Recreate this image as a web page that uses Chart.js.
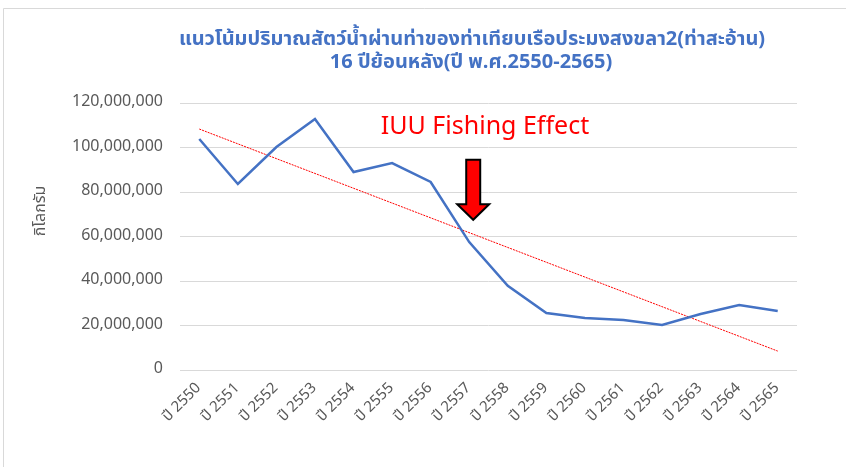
<!DOCTYPE html>
<html>
<head>
<meta charset="utf-8">
<script src="https://cdn.jsdelivr.net/npm/chart.js@4.4.1/dist/chart.umd.min.js"></script>
<style>
html,body{margin:0;padding:0;background:#fff;}
#wrap{width:846px;height:467px;position:relative;}
</style>
</head>
<body>
<div id="wrap"><canvas id="c" width="846" height="467"></canvas></div>
<script>
const categories = ['ปี 2550','ปี 2551','ปี 2552','ปี 2553','ปี 2554','ปี 2555','ปี 2556','ปี 2557','ปี 2558','ปี 2559','ปี 2560','ปี 2561','ปี 2562','ปี 2563','ปี 2564','ปี 2565'];
const catchKg = [103800000, 83600000, 100200000, 112800000, 89000000, 93000000, 84500000, 57500000, 37800000, 25600000, 23400000, 22500000, 20200000, 25200000, 29200000, 26500000];
const trendKg = [108300000, null, null, null, null, null, null, null, null, null, null, null, null, null, null, 8500000];
const yTicks = [0, 20000000, 40000000, 60000000, 80000000, 100000000, 120000000];
const titleLines = ['แนวโน้มปริมาณสัตว์น้ำผ่านท่าของท่าเทียบเรือประมงสงขลา2(ท่าสะอ้าน)', '16 ปีย้อนหลัง(ปี พ.ศ.2550-2565)'];
const yAxisTitle = 'กิโลกรัม';
const annotationText = 'IUU Fishing Effect';
const annotationIndex = 7;

const FONT = '"Noto Sans Thai","Leelawadee UI",Tahoma,"Noto Sans","Open Sans",sans-serif';

const decor = {
  id: 'decor',
  beforeDraw(chart) {
    const ctx = chart.ctx;
    ctx.save();
    ctx.fillStyle = '#fff';
    ctx.fillRect(0, 0, chart.width, chart.height);
    ctx.strokeStyle = '#d9d9d9';
    ctx.lineWidth = 1;
    ctx.beginPath();
    ctx.moveTo(3.5, chart.height);
    ctx.lineTo(3.5, 8.5);
    ctx.lineTo(chart.width, 8.5);
    ctx.stroke();
    ctx.restore();
  },
  afterDraw(chart) {
    const ctx = chart.ctx;
    const xs = chart.scales.x, ys = chart.scales.y;
    ctx.save();
    // title
    ctx.fillStyle = '#4472C4';
    ctx.textAlign = 'center';
    ctx.textBaseline = 'middle';
    ctx.font = 'bold 20px ' + FONT;
    ctx.fillText(titleLines[0], 472, 41);
    ctx.fillText(titleLines[1], 471, 64);
    // y axis title
    ctx.save();
    ctx.translate(42, 211);
    ctx.rotate(-Math.PI / 2);
    ctx.fillStyle = '#595959';
    ctx.font = '16px ' + FONT;
    ctx.fillText(yAxisTitle, 0, 0);
    ctx.restore();
    // annotation text
    ctx.fillStyle = '#ff0000';
    ctx.font = '25px ' + FONT;
    ctx.fillText(annotationText, 485, 129);
    // arrow
    const cx = xs.getPixelForValue(annotationIndex) + 4;
    const top = ys.getPixelForValue(94500000);
    const headStart = ys.getPixelForValue(74500000);
    const tip = ys.getPixelForValue(67500000);
    ctx.beginPath();
    ctx.moveTo(cx - 7, top);
    ctx.lineTo(cx + 7, top);
    ctx.lineTo(cx + 7, headStart);
    ctx.lineTo(cx + 16, headStart);
    ctx.lineTo(cx, tip);
    ctx.lineTo(cx - 16, headStart);
    ctx.lineTo(cx - 7, headStart);
    ctx.closePath();
    ctx.fillStyle = '#ff0000';
    ctx.fill();
    ctx.lineWidth = 2;
    ctx.strokeStyle = '#000';
    ctx.lineJoin = 'miter';
    ctx.stroke();
    ctx.restore();
  }
};

new Chart(document.getElementById('c'), {
  type: 'line',
  data: {
    labels: categories,
    datasets: [
      {
        label: 'ปริมาณสัตว์น้ำ',
        data: catchKg,
        borderColor: '#4472C4',
        backgroundColor: '#4472C4',
        borderWidth: 2.5,
        pointRadius: 0,
        tension: 0,
        order: 1
      },
      {
        label: 'แนวโน้ม',
        data: trendKg,
        borderColor: '#ff0000',
        borderWidth: 1,
        borderDash: [2, 1],
        pointRadius: 0,
        spanGaps: true,
        order: 2
      }
    ]
  },
  options: {
    responsive: false,
    animation: false,
    devicePixelRatio: 1,
    layout: { padding: { left: 0, right: 49, top: 103, bottom: 0 } },
    plugins: {
      legend: { display: false },
      title: { display: false },
      tooltip: { enabled: false }
    },
    scales: {
      x: {
        offset: true,
        grid: { display: false, drawTicks: false },
        border: { display: false },
        ticks: {
          color: '#595959',
          font: { family: FONT, size: 15 },
          minRotation: 45,
          maxRotation: 45,
          autoSkip: false,
          padding: 10
        },
        afterFit(s) { s.height = 97; }
      },
      y: {
        min: 0,
        max: 120000000,
        afterBuildTicks(s) { s.ticks = yTicks.map(v => ({ value: v })); },
        grid: { color: '#d9d9d9', lineWidth: 1, drawTicks: false },
        border: { display: false },
        ticks: {
          color: '#595959',
          font: { family: FONT, size: 16 },
          padding: 17,
          callback: v => v.toLocaleString('en-US')
        },
        afterFit(s) { s.width = 180; }
      }
    }
  },
  plugins: [decor]
});
</script>
</body>
</html>
